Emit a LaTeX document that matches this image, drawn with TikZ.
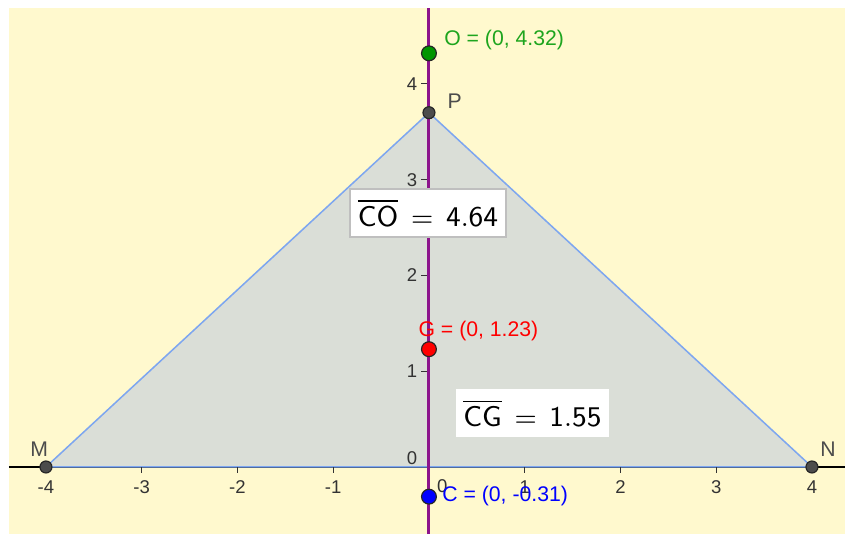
\documentclass[tikz,border=0pt]{standalone}
\usepackage{fontspec}
\setmainfont{Liberation Sans}
\usepackage{tikz}
\usetikzlibrary{positioning}

\definecolor{bgyellow}{RGB}{255,249,206}
\definecolor{trifill}{RGB}{218,222,215}
\definecolor{triedge}{RGB}{125,166,240}
\definecolor{axispurple}{RGB}{140,20,140}
\definecolor{ggreen}{RGB}{0,150,0}
\definecolor{lgreen}{RGB}{30,165,30}

\begin{document}
\begin{tikzpicture}[
  pt/.style={circle, draw=black!85, line width=0.35pt, inner sep=0pt, minimum size=1.55mm},
  vertex/.style={pt, fill=black!70, minimum size=1.25mm},
  ptlabel/.style={inner sep=0pt, font=\fontsize{6.3}{7.5}\selectfont},
  ticklabel/.style={inner sep=0pt, text=black!80, font=\fontsize{5.5}{6.5}\selectfont},
  valbox/.style={rectangle, fill=white, inner sep=0pt, minimum width=1.6cm, minimum height=0.5cm, font=\fontsize{8.5}{10}\selectfont}]

  \useasboundingbox (-4.480,-0.700) rectangle (4.345,4.877);
  \fill[bgyellow] (-4.386,-0.700) rectangle (4.345,4.794);

  \coordinate (Mc) at (-4,0);
  \coordinate (Nc) at (4,0);
  \coordinate (Pc) at (0,3.7);

  % triangle and axes
  \fill[trifill] (Mc) -- (Nc) -- (Pc) -- cycle;
  \draw[black, line width=0.4pt] (-4.386,0) -- (4.345,0);
  \draw[triedge, line width=0.45pt, line join=round] (Mc) -- (Nc) -- (Pc) -- cycle;

  \foreach \x in {-4,-3,-2,-1,1,2,3,4} {
    \draw[black!80, line width=0.3pt] (\x,0) -- (\x,-0.06);
    \node[ticklabel] at (\x,-0.21) {\x};
  }
  \foreach \y in {1,2,3,4} {
    \draw[black!80, line width=0.3pt] (0,\y) -- (-0.08,\y);
    \node[ticklabel] at (-0.178,\y) {\y};
  }
  \node[ticklabel] at (0.14,-0.20) {0};
  \node[ticklabel] at (-0.178,0.094) {0};

  \draw[axispurple, line width=0.9pt] (0,-0.700) -- (0,4.794);

  % values
  \node[valbox, draw=black!25, line width=0.4pt, minimum width=1.63cm] (COval) at (-0.01,2.653)
    {$\overline{\mathsf{CO}}\,=\,\mathsf{4.64}$};
  \node[valbox] (CGval) at (1.081,0.564)
    {$\overline{\mathsf{CG}}\,=\,\mathsf{1.55}$};

  % points
  \node[vertex] (M) at (Mc) {};
  \node[vertex] (N) at (Nc) {};
  \node[vertex] (P) at (Pc) {};
  \node[pt, fill=ggreen] (O) at (0,4.32) {};
  \node[pt, fill=red] (G) at (0,1.23) {};
  \node[pt, fill=blue] (C) at (0,-0.31) {};

  % labels
  \node[ptlabel, text=lgreen, right=0.07cm of O, yshift=0.14cm] (Olab) {O = (0, 4.32)};
  \node[ptlabel, text=black!70, right=0.12cm of P, yshift=0.12cm] (Plab) {P};
  \node[ptlabel, text=black!70, above=0.03cm of M, xshift=-0.07cm] (Mlab) {M};
  \node[ptlabel, text=black!70, above=0.03cm of N, xshift=0.167cm] (Nlab) {N};
  \node[ptlabel, text=red, anchor=west] (Glab) at ([xshift=-0.115cm, yshift=0.19cm]G) {G = (0, 1.23)};
  \node[ptlabel, text=blue, right=0.05cm of C, yshift=0.01cm] (Clab) {C = (0, -0.31)};
\end{tikzpicture}
\end{document}
